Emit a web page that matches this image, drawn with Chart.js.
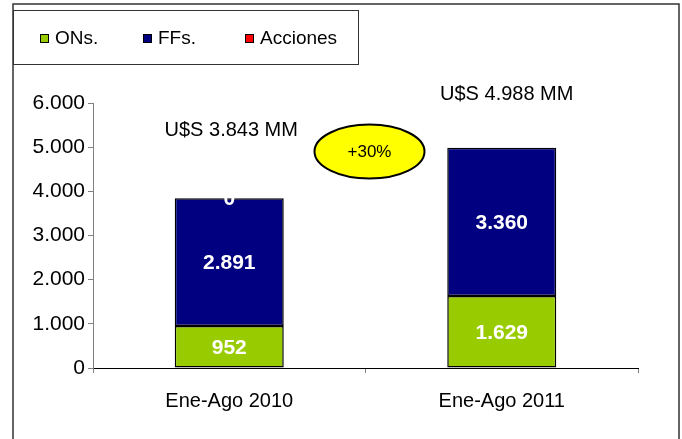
<!DOCTYPE html>
<html>
<head>
<meta charset="utf-8">
<script src="https://cdn.jsdelivr.net/npm/chart.js@4/dist/chart.umd.min.js"></script>
<style>
    html, body { margin: 0; padding: 0; background: #fff; }
    #wrap { width: 682px; height: 439px; position: relative; }
</style>
</head>
<body>
<div id="wrap"><canvas id="chart"></canvas></div>
<script>
const categories = ['Ene-Ago 2010', 'Ene-Ago 2011'];
const onsValues = [952, 1629];
const ffsValues = [2891, 3360];
const accionesValues = [0, null];
const totalLabels = ['U$S 3.843 MM', 'U$S 4.988 MM'];
const growthLabel = '+30%';

const FONT = '"Liberation Sans", Arial, sans-serif';

function fmt(v) {
    return String(v).replace(/\B(?=(\d{3})+(?!\d))/g, '.');
}

// frame, legend box, labels inside bars, totals and the growth bubble
const decorations = {
    id: 'decorations',
    beforeDraw(chart) {
        const ctx = chart.ctx;
        ctx.save();
        ctx.strokeStyle = '#333';
        ctx.lineWidth = 1.5;
        ctx.beginPath();
        ctx.moveTo(13, 445);
        ctx.lineTo(13, 4);
        ctx.lineTo(679, 4);
        ctx.lineTo(679, 445);
        ctx.stroke();

        // legend
        ctx.lineWidth = 1;
        ctx.strokeRect(13.5, 10.5, 345, 54);
        const xs = [40, 143, 245];
        ctx.font = '19px ' + FONT;
        ctx.textBaseline = 'middle';
        chart.data.datasets.forEach((ds, i) => {
            ctx.fillStyle = ds.backgroundColor;
            ctx.fillRect(xs[i], 34, 9, 9);
            ctx.strokeStyle = '#000';
            ctx.strokeRect(xs[i] + 0.5, 34.5, 8, 8);
            ctx.fillStyle = '#000';
            ctx.fillText(ds.label, xs[i] + 15, 39);
        });
        ctx.restore();
    },
    afterDatasetsDraw(chart) {
        const ctx = chart.ctx;
        const y = chart.scales.y;
        ctx.save();
        ctx.textAlign = 'center';
        ctx.textBaseline = 'middle';

        // values inside the segments
        ctx.font = 'bold 21px ' + FONT;
        ctx.fillStyle = '#fff';
        chart.data.datasets.forEach((ds, i) => {
            chart.getDatasetMeta(i).data.forEach((el, j) => {
                const v = ds.data[j];
                if (v === null || v === undefined) return;
                ctx.fillText(fmt(v), el.x, (el.y + el.base) / 2 + 1);
            });
        });

        // totals above the bars
        const lift = [68, 53];
        const shift = [2, 5];
        ctx.font = '20px ' + FONT;
        ctx.fillStyle = '#000';
        const meta = chart.getDatasetMeta(1);
        meta.data.forEach((el, j) => {
            ctx.fillText(totalLabels[j], el.x + shift[j], el.y - lift[j]);
        });

        // growth bubble between the bars
        const cx = (meta.data[0].x + meta.data[1].x) / 2 + 4;
        const cy = y.getPixelForValue(4900);
        ctx.beginPath();
        ctx.ellipse(cx, cy, 55, 27, 0, 0, Math.PI * 2);
        ctx.fillStyle = '#FFFF00';
        ctx.fill();
        ctx.lineWidth = 2;
        ctx.strokeStyle = '#000';
        ctx.stroke();
        ctx.fillStyle = '#000';
        ctx.font = '17px ' + FONT;
        ctx.fillText(growthLabel, cx, cy + 1);
        ctx.restore();
    }
};

new Chart(document.getElementById('chart'), {
    type: 'bar',
    data: {
        labels: categories,
        datasets: [
            {label: 'ONs.', data: onsValues, backgroundColor: '#99CC00'},
            {label: 'FFs.', data: ffsValues, backgroundColor: '#000080'},
            {label: 'Acciones', data: accionesValues, backgroundColor: '#FF0000'}
        ].map(ds => Object.assign(ds, {
            borderColor: '#000',
            borderWidth: 1.5,
            borderSkipped: false,
            categoryPercentage: 1,
            barPercentage: 0.4
        }))
    },
    options: {
        responsive: true,
        maintainAspectRatio: false,
        animation: false,
        layout: {padding: {left: 13, top: 103, right: 44, bottom: 21}},
        plugins: {legend: {display: false}, tooltip: {enabled: false}},
        scales: {
            x: {
                stacked: true,
                afterFit(scale) { scale.height = 50; },
                grid: {offset: true, drawOnChartArea: false, tickLength: 5, color: '#808080'},
                border: {color: '#000', width: 1},
                ticks: {color: '#000', padding: 16, font: {family: FONT, size: 20}}
            },
            y: {
                stacked: true,
                min: 0,
                max: 6000,
                afterFit(scale) { scale.width = 80; },
                grid: {drawOnChartArea: false, tickLength: 5, color: '#808080'},
                border: {color: '#808080', width: 1},
                ticks: {
                    stepSize: 1000,
                    color: '#000',
                    padding: 3,
                    font: {family: FONT, size: 21},
                    callback: v => fmt(v)
                }
            }
        }
    },
    plugins: [decorations]
});
</script>
</body>
</html>
